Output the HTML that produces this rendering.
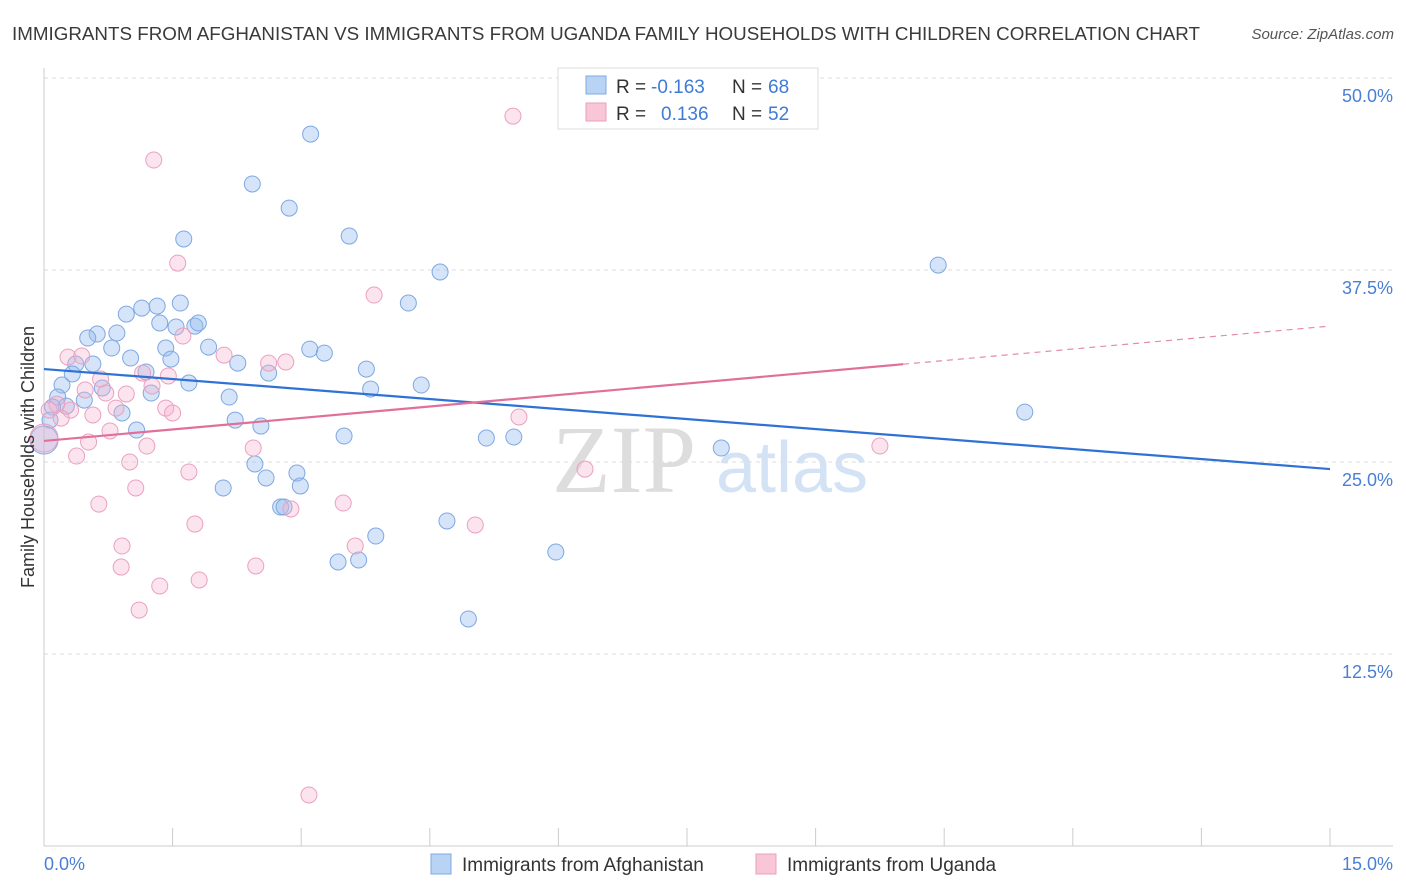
<!DOCTYPE html>
<html><head><meta charset="utf-8"><style>
body{margin:0;background:#fff;font-family:"Liberation Sans",sans-serif;}
svg{display:block}
</style></head><body>
<svg width="1406" height="892" viewBox="0 0 1406 892" id="chart">
<text x="12" y="40" font-size="18" fill="#3a3a3a" textLength="1188" lengthAdjust="spacingAndGlyphs">IMMIGRANTS FROM AFGHANISTAN VS IMMIGRANTS FROM UGANDA FAMILY HOUSEHOLDS WITH CHILDREN CORRELATION CHART</text>
<text x="1394" y="39" font-size="15" fill="#555" font-style="italic" text-anchor="end">Source: ZipAtlas.com</text>
<g>
<text x="552" y="492" font-size="96" font-family="Liberation Serif,serif" fill="#ddd">ZIP</text>
<text x="716" y="492" font-size="72" fill="#d3e2f5">atlas</text>
</g>
<g id="grid"></g>
<g id="axes"></g>
<g id="pts"></g>
<g id="trend"></g>
<text x="34" y="457" font-size="18" fill="#333" text-anchor="middle" transform="rotate(-90 34 457)">Family Households with Children</text>
<g>
<rect x="558" y="68" width="260" height="61" fill="#fff" stroke="#ddd"/>
<rect x="586" y="76" width="20" height="18" fill="#b9d3f5" stroke="#7ea8e2"/>
<rect x="586" y="103" width="20" height="18" fill="#f9c6d8" stroke="#e9a0bd"/>
<text x="616" y="93" font-size="19" fill="#333">R =</text>
<text x="651" y="93" font-size="19" fill="#3f7bd6">-0.163</text>
<text x="732" y="93" font-size="19" fill="#333">N =</text>
<text x="768" y="93" font-size="19" fill="#3f7bd6">68</text>
<text x="616" y="120" font-size="19" fill="#333">R =</text>
<text x="661" y="120" font-size="19" fill="#3f7bd6">0.136</text>
<text x="732" y="120" font-size="19" fill="#333">N =</text>
<text x="768" y="120" font-size="19" fill="#3f7bd6">52</text>
</g>
<g>
<rect x="431" y="854" width="20" height="20" fill="#b9d3f5" stroke="#7ea8e2"/>
<text x="462" y="871" font-size="19" fill="#333">Immigrants from Afghanistan</text>
<rect x="756" y="854" width="20" height="20" fill="#f9c6d8" stroke="#e9a0bd"/>
<text x="787" y="871" font-size="19" fill="#333">Immigrants from Uganda</text>
</g>
</svg>
<script>
const afgX=[3.11,2.43,2.86,1.63,3.56,4.62,10.43,4.25,1.59,1.32,1.14,0.96,1.35,1.54,1.76,1.80,0.85,0.62,0.51,0.79,1.42,1.92,3.10,3.27,1.01,1.48,2.26,0.37,0.57,0.33,1.19,2.62,3.76,1.69,0.21,4.40,3.81,0.68,1.25,2.16,0.16,0.47,0.26,0.10,0.91,11.44,2.23,2.53,1.08,3.50,5.16,5.48,7.90,2.46,2.95,2.59,2.99,2.09,2.76,2.80,4.70,3.87,3.43,3.67,5.97,4.95,0.07,0];
const afgY=[46.35,43.10,41.53,39.52,39.71,37.37,37.82,35.35,35.35,35.15,35.02,34.63,34.05,33.79,33.85,34.05,33.40,33.33,33.07,32.42,32.42,32.48,32.35,32.09,31.77,31.70,31.44,31.38,31.38,30.73,30.86,30.79,31.05,30.14,30.01,30.01,29.75,29.82,29.49,29.23,29.23,29.03,28.64,28.58,28.19,28.25,27.73,27.34,27.08,26.69,26.56,26.63,25.91,24.87,24.28,23.96,23.44,23.31,22.07,22.07,21.16,20.18,18.49,18.62,19.14,14.78,27.73,26.43];
const ugaX=[5.47,1.28,1.56,3.85,1.62,2.10,0.28,0.44,2.82,2.62,1.15,1.45,0.66,1.26,0.48,0.96,0.72,0.15,0.06,0.84,1.42,0.31,0.20,0.57,1.50,5.54,0.77,0.52,1.20,2.44,9.75,0.38,1.00,1.69,6.31,1.07,0.64,3.49,2.88,1.76,5.03,0.91,3.63,0.90,2.47,1.81,1.35,1.11,3.09,0];
const ugaY=[47.52,44.66,37.95,35.87,33.20,31.96,31.83,31.90,31.51,31.44,30.79,30.60,30.40,29.95,29.69,29.43,29.49,28.77,28.38,28.51,28.51,28.38,27.86,28.06,28.19,27.93,27.02,26.30,26.04,25.91,26.04,25.39,25.00,24.35,24.54,23.31,22.26,22.33,21.94,20.96,20.90,19.53,19.53,18.16,18.23,17.32,16.93,15.36,3.32,26.56];
const yTicks=[12.5,25,37.5,50];
const yTickLabels=["12.5%","25.0%","37.5%","50.0%"];
const xTicks=[0,1.5,3,4.5,6,7.5,9,10.5,12,13.5,15];
const afgTrend=[31.05,24.54];
const ugaTrend=[26.37,33.85];
const ugaSolidEnd=10.02;

const NS="http://www.w3.org/2000/svg";
const X=v=>44+v/15*1286, Y=v=>846-v/12.5*192;
function mk(tag,attrs,parent){const e=document.createElementNS(NS,tag);for(const k in attrs)e.setAttribute(k,attrs[k]);document.getElementById(parent).appendChild(e);return e;}
yTicks.forEach((t,i)=>{
  const g=mk('line',{x1:44,x2:1393,y1:Y(t),y2:Y(t),stroke:'#ddd','stroke-dasharray':'4,4'},'grid');
  
  
  const l=mk('text',{x:1393,y:Y(t)+24,'font-size':18,fill:'#4a7fd4','text-anchor':'end'},'grid');
  l.textContent=yTickLabels[i];
  
  
});
let a=mk('line',{x1:44,x2:44,y1:68,y2:846,stroke:'#ccc'},'axes');


a=mk('line',{x1:44,x2:1393,y1:846,y2:846,stroke:'#ccc'},'axes');


xTicks.forEach(t=>{
  const k=mk('line',{x1:X(t),x2:X(t),y1:828,y2:846,stroke:'#ccc'},'axes');
  
  
});
let xl=mk('text',{x:44,y:870,'font-size':18,fill:'#4a7fd4'},'axes');xl.textContent=xTicks[0].toFixed(1)+'%';


xl=mk('text',{x:1393,y:870,'font-size':18,fill:'#4a7fd4','text-anchor':'end'},'axes');xl.textContent=xTicks[xTicks.length-1].toFixed(1)+'%';


function pts(xs,ys,fill,stroke,name){
  xs.forEach((v,i)=>{
    const big=(v===0);
    const c=mk('circle',{cx:X(v),cy:Y(ys[i]),r:big?14:8,fill:fill,stroke:stroke,'stroke-width':1},'pts');
    
    
  });
}
pts(afgX,afgY,'rgba(150,188,238,0.4)','#7ea8e2','point-afghanistan');
pts(ugaX,ugaY,'rgba(246,178,205,0.35)','#eba0bf','point-uganda');
let t=mk('line',{x1:X(0),y1:Y(afgTrend[0]),x2:X(15),y2:Y(afgTrend[1]),stroke:'#2f72d6','stroke-width':2.2},'trend');


const uy=v=>ugaTrend[0]+(ugaTrend[1]-ugaTrend[0])*v/15;
t=mk('line',{x1:X(0),y1:Y(ugaTrend[0]),x2:X(ugaSolidEnd),y2:Y(uy(ugaSolidEnd)),stroke:'#e0709a','stroke-width':2.2},'trend');


t=mk('line',{x1:X(ugaSolidEnd),y1:Y(uy(ugaSolidEnd)),x2:X(15),y2:Y(ugaTrend[1]),stroke:'#e58aab','stroke-width':1.2,'stroke-dasharray':'6,5'},'trend');


</script>
</body></html>
